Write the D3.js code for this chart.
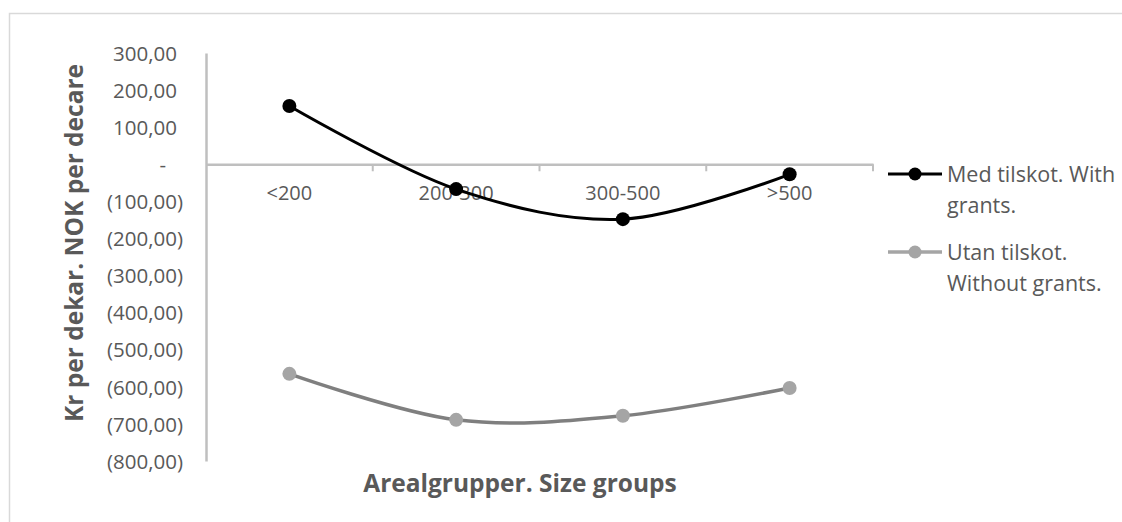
<!DOCTYPE html>
<html><head><meta charset="utf-8">
<script src="https://cdn.jsdelivr.net/npm/d3@7"></script>
<style>
body{margin:0;background:#fff;}
text{font-family:"Open Sans",sans-serif;}
</style></head>
<body>
<svg id="c" width="1122" height="522"></svg>
<script>
const categories = ["<200", "200-300", "300-500", ">500"];
const seriesNames = ["Med tilskot. With grants.", "Utan tilskot. Without grants."];
const medTilskot = [157, -67, -148, -27];
const utanTilskot = [-565, -689, -678, -603];
const yTicks = [300, 200, 100, 0, -100, -200, -300, -400, -500, -600, -700, -800];
const yTitle = "Kr per dekar. NOK per decare";
const xTitle = "Arealgrupper. Size groups";

(function () {
const svg = d3.select("#c");
const pLeft = 206, pRight = 873, pTop = 53, pBottom = 461;

// chart border
svg.append("rect").attr("x", 9.5).attr("y", 13.5).attr("width", 1130).attr("height", 530)
  .attr("fill", "none").attr("stroke", "#d9d9d9").attr("stroke-width", 1.5);

const y = d3.scaleLinear().domain([-800, 300]).range([pBottom, pTop]);
const x = d3.scaleBand().domain(categories).range([pLeft, pRight]).padding(0);
const xc = d => x(d) + x.bandwidth() / 2;

const fmt = v => {
  if (v === 0) return "-";
  const s = d3.format(".2f")(Math.abs(v)).replace(".", ",");
  return v < 0 ? "(" + s + ")" : s;
};

// y axis
const yAxis = svg.append("g").attr("transform", `translate(${pLeft},0)`)
  .call(d3.axisLeft(y).tickValues(yTicks).tickSize(0).tickPadding(23).tickFormat(fmt));
yAxis.select(".domain").attr("stroke", "#bfbfbf").attr("stroke-width", 2.5);
yAxis.selectAll("text").attr("fill", "#595959").style("font-size", "20.5px").attr("dy", "0.35em");
yAxis.selectAll("text").filter(d => d > 0).attr("dx", -6);
yAxis.selectAll("text").filter(d => d === 0).attr("dx", -17);

// x axis at zero
const xAxis = svg.append("g").attr("transform", `translate(0,${y(0)})`)
  .call(d3.axisBottom(x).tickSize(0).tickPadding(22));
xAxis.select(".domain").attr("stroke", "#bfbfbf").attr("stroke-width", 2.5);
xAxis.selectAll("text").attr("fill", "#595959").style("font-size", "20px");
// category boundary ticks
svg.append("g").selectAll("line").data(categories.slice(1).concat(["__end"]))
  .join("line")
  .attr("x1", d => d === "__end" ? pRight : x(d)).attr("x2", d => d === "__end" ? pRight : x(d))
  .attr("y1", y(0)).attr("y2", y(0) + 7)
  .attr("stroke", "#bfbfbf").attr("stroke-width", 2);

// lines
const line = d3.line().x((d, i) => xc(categories[i])).y(d => y(d)).curve(d3.curveCatmullRom.alpha(0));
const series = [
  {name: seriesNames[0], values: medTilskot, stroke: "#000000", fill: "#000000", lw: 3},
  {name: seriesNames[1], values: utanTilskot, stroke: "#7f7f7f", fill: "#a5a5a5", lw: 3.5}
];
series.forEach(s => {
  svg.append("path").attr("d", line(s.values)).attr("fill", "none")
    .attr("stroke", s.stroke).attr("stroke-width", s.lw);
  svg.append("g").selectAll("circle").data(s.values).join("circle")
    .attr("cx", (d, i) => xc(categories[i])).attr("cy", d => y(d)).attr("r", 7)
    .attr("fill", s.fill);
});

// axis titles
svg.append("text").attr("transform", `translate(83,243) rotate(-90)`)
  .attr("text-anchor", "middle").attr("fill", "#595959").style("font-size", "24.5px")
  .style("font-weight", "bold").text(yTitle);
svg.append("text").attr("x", 520).attr("y", 492).attr("text-anchor", "middle")
  .attr("fill", "#595959").style("font-size", "24.5px").style("font-weight", "bold").text(xTitle);

// legend
const legendLines = [["Med tilskot. With", "grants."], ["Utan tilskot.", "Without grants."]];
const legY = [174, 252];
series.forEach((s, i) => {
  const g = svg.append("g");
  g.append("line").attr("x1", 888).attr("x2", 942).attr("y1", legY[i]).attr("y2", legY[i])
    .attr("stroke", i === 0 ? s.stroke : "#a5a5a5").attr("stroke-width", s.lw);
  g.append("circle").attr("cx", 915).attr("cy", legY[i]).attr("r", 6.5).attr("fill", s.fill);
  const t = g.append("text").attr("x", 947).attr("y", legY[i]).attr("fill", "#595959")
    .style("font-size", "21.5px");
  legendLines[i].forEach((ln, j) => {
    t.append("tspan").attr("x", 947).attr("dy", j === 0 ? "0.35em" : "31px").text(ln);
  });
});
})();
</script>
</body></html>
